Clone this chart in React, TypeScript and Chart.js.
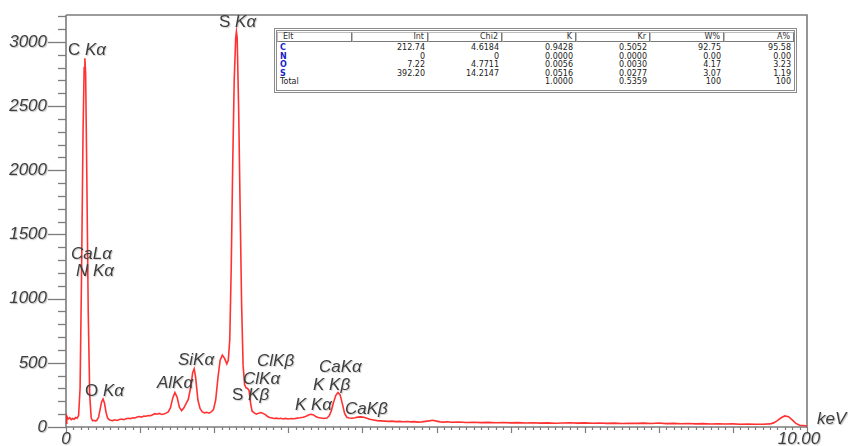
import React, { useEffect, useRef } from "react";
import { Chart, registerables } from "chart.js";

Chart.register(...registerables);

// EDS spectrum: energy (keV) and counts
const energyKeV = [
  0.0, 0.01, 0.03, 0.05, 0.07, 0.09, 0.11, 0.13, 0.15, 0.17, 0.19, 0.21, 0.23, 0.245, 0.255, 0.265, 0.28, 0.3,
  0.32, 0.34, 0.36, 0.38, 0.4, 0.42, 0.44, 0.46, 0.48, 0.5, 0.52, 0.54, 0.56, 0.58, 0.6, 0.63, 0.66, 0.69, 0.72,
  0.75, 0.78, 0.81, 0.84, 0.87, 0.9, 0.93, 0.96, 0.99, 1.02, 1.05, 1.08, 1.11, 1.14, 1.17, 1.2, 1.23, 1.26, 1.29,
  1.32, 1.35, 1.38, 1.41, 1.44, 1.47, 1.5, 1.53, 1.56, 1.59, 1.62, 1.65, 1.68, 1.71, 1.73, 1.75, 1.78, 1.81, 1.84,
  1.87, 1.9, 1.93, 1.96, 1.99, 2.02, 2.05, 2.08, 2.11, 2.14, 2.17, 2.19, 2.21, 2.23, 2.25, 2.27, 2.29, 2.3, 2.31,
  2.33, 2.35, 2.37, 2.39, 2.41, 2.43, 2.45, 2.47, 2.49, 2.51, 2.54, 2.57, 2.6, 2.63, 2.66, 2.69, 2.72, 2.75, 2.78,
  2.81, 2.84, 2.87, 2.9, 2.93, 2.96, 3.0, 3.04, 3.08, 3.12, 3.16, 3.2, 3.24, 3.28, 3.31, 3.34, 3.37, 3.4, 3.44,
  3.48, 3.52, 3.55, 3.58, 3.61, 3.64, 3.67, 3.7, 3.73, 3.76, 3.79, 3.82, 3.86, 3.9, 3.94, 3.98, 4.02, 4.06, 4.1,
  4.15, 4.2, 4.25, 4.3, 4.35, 4.4, 4.45, 4.5, 4.55, 4.6, 4.65, 4.7, 4.75, 4.8, 4.85, 4.9, 4.95, 5.0, 5.05, 5.1,
  5.15, 5.2, 5.3, 5.4, 5.5, 5.6, 5.7, 5.8, 5.9, 6.0, 6.1, 6.2, 6.3, 6.4, 6.5, 6.6, 6.7, 6.8, 6.9, 7.0, 7.1, 7.2,
  7.3, 7.4, 7.5, 7.6, 7.7, 7.8, 7.9, 8.0, 8.1, 8.2, 8.3, 8.4, 8.5, 8.6, 8.7, 8.8, 8.9, 9.0, 9.1, 9.2, 9.3, 9.4,
  9.5, 9.55, 9.6, 9.65, 9.7, 9.75, 9.8, 9.85, 9.9, 9.95, 10.0,
];

const counts = [
  30, 85, 62, 72, 58, 66, 60, 74, 68, 90, 300, 1200, 2300, 2800, 2873, 2750, 2000, 900,
  250, 70, 48, 52, 46, 55, 78, 135, 195, 218, 185, 115, 72, 58, 52, 50, 56, 51, 58,
  62, 57, 64, 68, 65, 72, 70, 78, 82, 77, 86, 84, 90, 88, 96, 104, 100, 106, 98,
  102, 108, 118, 150, 225, 268, 232, 155, 128, 148, 182, 215, 300, 425, 453, 385, 210, 142, 118,
  110, 115, 108, 118, 135, 210, 380, 520, 560, 535, 492, 520, 680, 1250, 2050, 2700, 3030, 3080, 3030,
  2480, 1700, 950, 480, 330, 305, 300, 285, 190, 125, 110, 100, 108, 113, 106, 96, 82, 74, 70,
  66, 69, 64, 68, 63, 67, 62, 66, 64, 69, 72, 76, 84, 95, 99, 94, 82, 74, 70,
  66, 70, 85, 125, 190, 245, 268, 250, 180, 105, 76, 70, 68, 72, 77, 79, 76, 68, 60,
  55, 50, 48, 46, 44, 46, 42, 44, 41, 43, 40, 42, 38, 40, 44, 48, 53, 46, 40, 38,
  41, 37, 39, 35, 37, 34, 36, 33, 35, 32, 34, 31, 33, 30, 32, 29, 31, 33, 30, 32, 29, 31,
  28, 30, 27, 29, 28, 30, 27, 31, 26, 28, 25, 27, 24, 26, 23, 25, 23, 24, 22, 23, 21, 22,
  24, 32, 50, 72, 86, 80, 55, 28, 14, 12, 8,
];

// Axis ranges and labelled ticks
const xMin = 0;
const xMax = 10;
const yMin = 0;
const yMax = 3210;
const yLabelTicks = [0, 500, 1000, 1500, 2000, 2500, 3000];
const xEndLabels = ["0", "10.00"];
const xUnit = "keV";

// Peak identifications: label text anchored at (keV, counts), left edge / middle
const peakNames = ["C Kα", "S Kα", "CaLα", "N Kα", "O Kα", "AlKα", "SiKα", "ClKβ", "ClKα", "S Kβ", "K Kα", "CaKα", "K Kβ", "CaKβ"];
const peakLabelKeV = [0.027, 2.065, 0.067, 0.135, 0.256, 1.228, 1.511, 2.578, 2.389, 2.24, 3.09, 3.414, 3.333, 3.765];
const peakLabelCounts = [2938, 3156, 1348, 1216, 275, 340, 522, 509, 374, 249, 171, 467, 327, 140];

// Quantification table
const tableHeader = ["Elt", "Int", "Chi2", "K", "Kr", "W%", "A%"];
const tableElements = ["C", "N", "O", "S"];
const intValues = ["212.74", "0", "7.22", "392.20"];
const chi2Values = ["4.6184", "0", "4.7711", "14.2147"];
const kValues = ["0.9428", "0.0000", "0.0056", "0.0516"];
const krValues = ["0.5052", "0.0000", "0.0030", "0.0277"];
const weightPct = ["92.75", "0.00", "4.17", "3.07"];
const atomicPct = ["95.58", "0.00", "3.23", "1.19"];
const totalRow = ["Total", "", "", "1.0000", "0.5359", "100", "100"];

const AXIS_COLOR = "#7c7c7c";
const LABEL_COLOR = "#3e3e3e";
const FONT = '"Liberation Sans", Arial, sans-serif';
const LABEL_SIZE = 17;

const axesPlugin = {
  id: "edsAxes",
  beforeDatasetsDraw(chart: any) {
    const { ctx, chartArea, scales } = chart;
    const xs = scales.x;
    const ys = scales.y;
    const left = chartArea.left;
    const right = chartArea.right;
    const top = chartArea.top;
    const bottom = chartArea.bottom;
    ctx.save();
    ctx.strokeStyle = AXIS_COLOR;
    ctx.lineWidth = 1.6;
    ctx.beginPath();
    ctx.moveTo(left, top);
    ctx.lineTo(right, top);
    ctx.lineTo(right, bottom + 1);
    ctx.moveTo(left, top);
    ctx.lineTo(left, bottom);
    ctx.lineTo(right, bottom);
    ctx.stroke();

    // y ticks every 100 counts, longer at labelled values
    ctx.lineWidth = 1.3;
    for (let v = 0; v <= 3200; v += 100) {
      const py = Math.round(ys.getPixelForValue(v)) + 0.5;
      const major = yLabelTicks.includes(v);
      ctx.beginPath();
      ctx.moveTo(major ? left - 18 : left - 8, py);
      ctx.lineTo(left, py);
      ctx.stroke();
    }
    // x ticks every 0.1 keV, longer every 1 keV
    ctx.lineWidth = 1.2;
    for (let i = 0; i <= 100; i++) {
      const v = i / 10;
      const px = Math.round(xs.getPixelForValue(v)) + 0.5;
      const major = i % 10 === 0;
      ctx.beginPath();
      ctx.moveTo(px, bottom);
      ctx.lineTo(px, bottom + (major ? 6 : 3));
      ctx.stroke();
    }

    // tick labels
    ctx.fillStyle = LABEL_COLOR;
    ctx.shadowColor = "rgba(0,0,0,0.25)";
    ctx.shadowOffsetX = 1;
    ctx.shadowOffsetY = 1;
    ctx.shadowBlur = 1;
    ctx.font = `italic ${LABEL_SIZE}px ${FONT}`;
    ctx.textAlign = "right";
    ctx.textBaseline = "middle";
    for (const v of yLabelTicks) {
      ctx.fillText(String(v), left - 19, ys.getPixelForValue(v));
    }
    ctx.textAlign = "center";
    ctx.fillText(xEndLabels[0], xs.getPixelForValue(xMin), bottom + 12);
    ctx.fillText(xEndLabels[1], xs.getPixelForValue(xMax) - 8, bottom + 12);
    ctx.textAlign = "left";
    ctx.fillText(xUnit, right + 10, bottom - 8);
    ctx.restore();
  },
  afterDatasetsDraw(chart: any) {
    const { ctx, scales } = chart;
    ctx.save();
    ctx.fillStyle = LABEL_COLOR;
    ctx.shadowColor = "rgba(0,0,0,0.2)";
    ctx.shadowOffsetX = 1;
    ctx.shadowOffsetY = 1;
    ctx.shadowBlur = 1;
    ctx.textBaseline = "middle";
    ctx.textAlign = "left";
    peakNames.forEach((name, i) => {
      let x = scales.x.getPixelForValue(peakLabelKeV[i]);
      const y = scales.y.getPixelForValue(peakLabelCounts[i]);
      const m = name.match(/^([CSO]) (.*)$/);
      if (m) {
        ctx.font = `${LABEL_SIZE}px ${FONT}`;
        const head = m[1] + " ";
        ctx.fillText(head, x, y);
        x += ctx.measureText(head).width;
        ctx.font = `italic ${LABEL_SIZE}px ${FONT}`;
        ctx.fillText(m[2], x, y);
      } else {
        ctx.font = `italic ${LABEL_SIZE}px ${FONT}`;
        ctx.fillText(name, x, y);
      }
    });
    ctx.restore();
  },
};

const colWidths = [75, 76, 74, 74, 74, 74, 70];

function QuantTable() {
  const rows = tableElements.map((el, i) => [
    el,
    intValues[i],
    chi2Values[i],
    kValues[i],
    krValues[i],
    weightPct[i],
    atomicPct[i],
  ]);
  const cellText: React.CSSProperties = {
    fontFamily: '"DejaVu Sans", sans-serif',
    fontSize: 8,
    lineHeight: "8.5px",
    height: 8.5,
    color: "#222",
    whiteSpace: "nowrap",
    boxSizing: "border-box",
  };
  return (
    <div
      style={{
        position: "absolute",
        left: 274,
        top: 28,
        width: 523,
        height: 65,
        boxSizing: "border-box",
        border: "3px double #8c8c8c",
        background: "#fff",
        padding: "1px 0 0 0",
      }}
    >
      <div style={{ display: "flex", height: 10, marginBottom: 2 }}>
        {tableHeader.map((h, c) => (
          <div
            key={h}
            style={{
              ...cellText,
              width: colWidths[c],
              height: 10,
              lineHeight: "8px",
              borderTop: "1px solid #bdbdbd",
              borderLeft: "1px solid #bdbdbd",
              borderRight: "1px solid #7a7a7a",
              borderBottom: "1px solid #7a7a7a",
              textAlign: c === 0 ? "left" : "right",
              padding: c === 0 ? "0 0 0 5px" : "0 3px 0 0",
              color: "#333",
            }}
          >
            {h}
          </div>
        ))}
      </div>
      {[...rows, totalRow].map((r, ri) => (
        <div key={ri} style={{ display: "flex", height: 8.5 }}>
          {r.map((v, c) => (
            <div
              key={c}
              style={{
                ...cellText,
                width: colWidths[c],
                textAlign: c === 0 ? "left" : "right",
                padding: c === 0 ? "0 0 0 3px" : "0 3px 0 0",
                fontWeight: c === 0 && ri < rows.length ? 700 : 400,
                color: c === 0 && ri < rows.length ? "#1c1cc8" : "#222",
              }}
            >
              {v}
            </div>
          ))}
        </div>
      ))}
    </div>
  );
}

export default function App() {
  const canvasRef = useRef<HTMLCanvasElement | null>(null);

  useEffect(() => {
    document.body.style.margin = "0";
    const canvas = canvasRef.current;
    if (!canvas) return;
    const chart = new Chart(canvas, {
      type: "scatter",
      data: {
        datasets: [
          {
            data: energyKeV.map((e, i) => ({ x: e, y: counts[i] })),
            showLine: true,
            borderColor: "rgba(255, 28, 28, 0.9)",
            borderWidth: 1.6,
            pointRadius: 0,
            tension: 0,
            fill: false,
          },
        ],
      },
      options: {
        animation: false,
        responsive: false,
        devicePixelRatio: 1,
        layout: { padding: { left: 66, right: 41, top: 15, bottom: 19 } },
        plugins: { legend: { display: false }, tooltip: { enabled: false } },
        scales: {
          x: { type: "linear", min: xMin, max: xMax, display: false },
          y: { type: "linear", min: yMin, max: yMax, display: false },
        },
      },
      plugins: [axesPlugin],
    });
    return () => chart.destroy();
  }, []);

  return (
    <div style={{ position: "absolute", left: 0, top: 0, width: 848, height: 446, background: "#fff" }}>
      <canvas ref={canvasRef} width={848} height={446} style={{ display: "block" }} />
      <QuantTable />
    </div>
  );
}
